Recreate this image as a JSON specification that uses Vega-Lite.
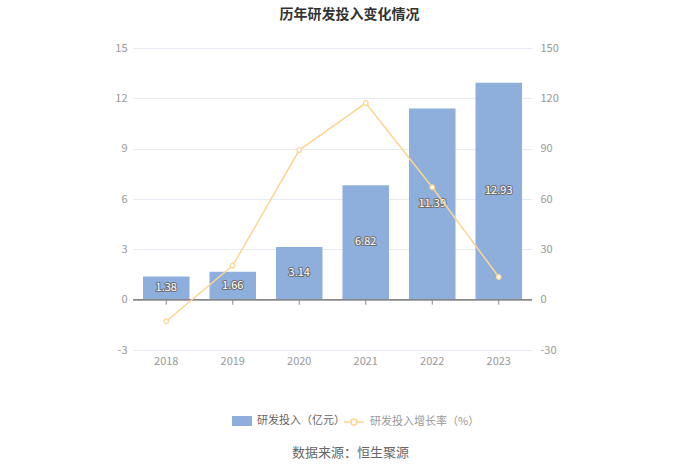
{
  "$schema": "https://vega.github.io/schema/vega-lite/v6.json",
  "autosize": {"type": "none"},
  "width": 399,
  "height": 302,
  "padding": {"left": 133, "top": 48, "right": 168, "bottom": 123},
  "background": "white",
  "title": {
    "text": "历年研发投入变化情况",
    "anchor": "middle",
    "dx": 17,
    "offset": 20,
    "fontSize": 14,
    "fontWeight": "bold",
    "color": "#333333",
    "font": "Noto Sans CJK SC"
  },
  "config": {
    "font": "Noto Sans CJK SC",
    "view": {"stroke": null},
    "axis": {"labelFont": "Noto Sans CJK SC", "titleFont": "Noto Sans CJK SC"},
    "legend": {"labelFont": "Noto Sans CJK SC"}
  },
  "data": {
    "values": [
      {"year": "2018", "invest": 1.38, "growth": -12.86},
      {"year": "2019", "invest": 1.66, "growth": 20.29},
      {"year": "2020", "invest": 3.14, "growth": 89.16},
      {"year": "2021", "invest": 6.82, "growth": 117.2},
      {"year": "2022", "invest": 11.39, "growth": 67.01},
      {"year": "2023", "invest": 12.93, "growth": 13.52}
    ]
  },
  "encoding": {
    "x": {
      "field": "year",
      "type": "nominal",
      "sort": null,
      "scale": {"paddingInner": 0.3, "paddingOuter": 0.15},
      "axis": {
        "title": "数据来源：恒生聚源",
        "titleFontSize": 13,
        "titleFontWeight": "normal",
        "titleColor": "#666666",
        "titlePadding": 80,
        "titleX": 217,
        "titleAlign": "center",
        "labelAngle": 0,
        "labelColor": "#999999",
        "labelFontSize": 11,
        "labelPadding": 5,
        "domain": false,
        "ticks": false,
        "grid": false
      }
    }
  },
  "layer": [
    {
      "layer": [
        {
          "mark": {"type": "bar"},
          "encoding": {
            "y": {
              "field": "invest",
              "type": "quantitative",
              "scale": {"domain": [-3, 15], "nice": false, "zero": false},
              "axis": {
                "title": null,
                "values": [-3, 0, 3, 6, 9, 12, 15],
                "labelExpr": "replace(datum.label, '−', '-')",
                "labelColor": "#999999",
                "labelFontSize": 11,
                "labelPadding": 6,
                "domain": false,
                "ticks": false,
                "grid": true,
                "gridColor": "#e6eaf3",
                "gridWidth": 1
              }
            },
            "y2": {"datum": 0},
            "color": {
              "datum": "研发投入（亿元）",
              "type": "nominal",
              "scale": {"range": ["#8eaedb"]},
              "legend": {
                "orient": "none",
                "legendX": 99,
                "legendY": 363,
                "title": null,
                "direction": "horizontal",
                "symbolType": "M-1,-0.5H1V0.5H-1Z",
                "symbolSize": 400,
                "symbolStrokeWidth": 0,
                "labelColor": "#666666",
                "labelFontSize": 11,
                "labelOffset": 5
              }
            }
          }
        },
        {
          "mark": {"type": "rule", "color": "#888888", "strokeWidth": 1},
          "encoding": {"y": {"datum": 0, "type": "quantitative"}, "x": null}
        },
        {
          "mark": {"type": "rule", "color": "#888888", "strokeWidth": 1},
          "encoding": {
            "y": {"datum": 0, "type": "quantitative"},
            "y2": {"datum": -0.3}
          }
        },
        {
          "transform": [{"calculate": "datum.invest / 2", "as": "mid"}],
          "mark": {
            "type": "text",
            "fontSize": 11,
            "stroke": "#6f6f6f",
            "strokeWidth": 2,
            "strokeJoin": "round",
            "fill": "#6f6f6f"
          },
          "encoding": {
            "y": {"field": "mid", "type": "quantitative"},
            "text": {"field": "invest", "type": "quantitative", "format": ".2f"}
          }
        },
        {
          "transform": [{"calculate": "datum.invest / 2", "as": "mid"}],
          "mark": {"type": "text", "fontSize": 11, "fill": "#ffffff"},
          "encoding": {
            "y": {"field": "mid", "type": "quantitative"},
            "text": {"field": "invest", "type": "quantitative", "format": ".2f"}
          }
        }
      ]
    },
    {
      "mark": {
        "type": "line",
        "strokeWidth": 1.5,
        "point": {"filled": false, "fill": "white", "size": 22, "strokeWidth": 1.2}
      },
      "encoding": {
        "y": {
          "field": "growth",
          "type": "quantitative",
          "scale": {"domain": [-30, 150], "nice": false, "zero": false},
          "axis": {
            "orient": "right",
            "title": null,
            "values": [-30, 0, 30, 60, 90, 120, 150],
            "labelExpr": "replace(datum.label, '−', '-')",
            "labelColor": "#999999",
            "labelFontSize": 11,
            "labelPadding": 8,
            "domain": false,
            "ticks": false,
            "grid": false
          }
        },
        "stroke": {
          "datum": "研发投入增长率（%）",
          "type": "nominal",
          "scale": {"range": ["#fdd590"]},
          "legend": {
            "orient": "none",
            "legendX": 210,
            "legendY": 363,
            "title": null,
            "direction": "horizontal",
            "symbolType": "M-1,0L-0.3,0M0.3,0L1,0M0.3,0A0.3,0.3,0,1,1,-0.3,0A0.3,0.3,0,1,1,0.3,0",
            "symbolSize": 400,
            "symbolFillColor": "white",
            "symbolStrokeWidth": 1.5,
            "labelColor": "#999999",
            "labelFontSize": 11,
            "labelOffset": 5
          }
        }
      }
    }
  ],
  "resolve": {"scale": {"y": "independent"}}
}
